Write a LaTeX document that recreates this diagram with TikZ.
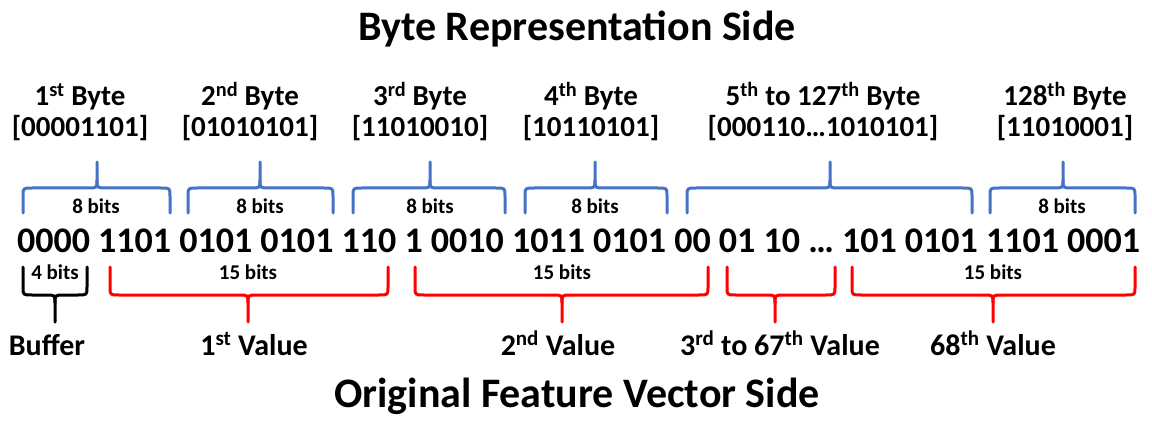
\documentclass[tikz,border=0pt]{standalone}
\usepackage{fontspec}
\setmainfont{Carlito}
\definecolor{bblue}{HTML}{4472C4}
\definecolor{bred}{HTML}{FF0000}
\newcommand{\fsz}[1]{\fontsize{#1}{#1}\selectfont}
% brace: style, L, M, R, yend, yline, ytip, d (+ up, - down)
\newcommand{\mybrace}[8]{%
  \draw[bracestyle,#1] (#2,#5) -- ({#2},{#6-(#8)}) .. controls (#2,#6) .. ({#2+9},#6)
    -- ({#3-9},#6) .. controls (#3,#6) .. ({#3},{#6+(#8)}) -- (#3,#7);
  \draw[bracestyle,#1] (#4,#5) -- ({#4},{#6-(#8)}) .. controls (#4,#6) .. ({#4-9},#6)
    -- ({#3+9},#6) .. controls (#3,#6) .. ({#3},{#6+(#8)});}
\begin{document}
\begin{tikzpicture}[x=1pt,y=1pt,
  bracestyle/.style={line width=3pt, line cap=round, line join=round},
  title/.style={font=\bfseries\fsz{42}, inner sep=0, anchor=base},
  bytelab/.style={font=\bfseries\fsz{29}, inner sep=0, anchor=base},
  bits/.style={font=\bfseries\fsz{36}, inner sep=0, anchor=base},
  small/.style={font=\bfseries\fsz{21}, inner sep=0, anchor=base},
  vallab/.style={font=\bfseries\fsz{30}, inner sep=0, anchor=base}]
\useasboundingbox (0,0) rectangle (1152,-425);
% titles
\node[title] (top) at (577,-41) {Byte Representation Side};
\node[title] (bot) at (577,-407) {Original Feature Vector Side};
% byte labels
\node[bytelab] (b1) at (80,-106) {1\textsuperscript{st} Byte};
\node[bytelab] (b1v) at (80,-137) {[00001101]};
\node[bytelab] (b2) at (250,-106) {2\textsuperscript{nd} Byte};
\node[bytelab] (b2v) at (250,-137) {[01010101]};
\node[bytelab] (b3) at (420,-106) {3\textsuperscript{rd} Byte};
\node[bytelab] (b3v) at (420,-137) {[11010010]};
\node[bytelab] (b4) at (591,-106) {4\textsuperscript{th} Byte};
\node[bytelab] (b4v) at (591,-137) {[10110101]};
\node[bytelab] (b5) at (823,-106) {5\textsuperscript{th} to 127\textsuperscript{th} Byte};
\node[bytelab] (b5v) at (823,-137) {[000110…1010101]};
\node[bytelab] (b6) at (1065,-106) {128\textsuperscript{th} Byte};
\node[bytelab] (b6v) at (1065,-137) {[11010001]};
% bit string
\node[bits] (bs) at (578.5,-252) {0000 1101 0101 0101 110 1 0010 1011 0101 00 01 10 … 101 0101 1101 0001};
% blue braces
\mybrace{bblue}{23}{97}{170}{-213}{-188}{-162}{8}
\mybrace{bblue}{188}{260}{333}{-213}{-188}{-162}{8}
\mybrace{bblue}{353}{430}{505}{-213}{-188}{-162}{8}
\mybrace{bblue}{525}{595}{667}{-213}{-188}{-162}{8}
\mybrace{bblue}{687}{830}{972}{-213}{-188}{-162}{8}
\mybrace{bblue}{990}{1063}{1135}{-213}{-188}{-162}{8}
\node[small] (e1) at (96,-214) {8 bits};
\node[small] (e2) at (260,-214) {8 bits};
\node[small] (e3) at (430,-214) {8 bits};
\node[small] (e4) at (595,-214) {8 bits};
\node[small] (e6) at (1062,-214) {8 bits};
% lower braces
\mybrace{black}{23}{55}{87}{-267}{-295}{-322}{-8}
\mybrace{bred}{110}{248}{388}{-267}{-295}{-322}{-8}
\mybrace{bred}{415}{562}{708}{-267}{-295}{-322}{-8}
\mybrace{bred}{727}{775}{835}{-267}{-295}{-322}{-8}
\mybrace{bred}{852}{993}{1135}{-267}{-295}{-322}{-8}
\node[small] (f0) at (55,-279) {4 bits};
\node[small] (f1) at (248,-279) {15 bits};
\node[small] (f2) at (562,-279) {15 bits};
\node[small] (f4) at (993,-279) {15 bits};
% value labels
\node[vallab] (v0) at (47,-355) {Buffer};
\node[vallab] (v1) at (254,-355) {1\textsuperscript{st} Value};
\node[vallab] (v2) at (558,-355) {2\textsuperscript{nd} Value};
\node[vallab] (v3) at (780,-355) {3\textsuperscript{rd} to 67\textsuperscript{th} Value};
\node[vallab] (v4) at (993,-355) {68\textsuperscript{th} Value};
\end{tikzpicture}
\end{document}
